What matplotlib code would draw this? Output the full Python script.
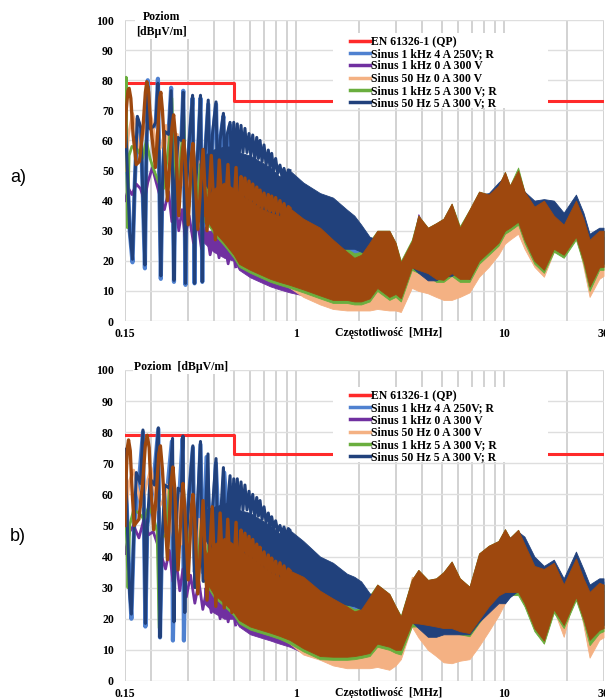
import matplotlib.pyplot as plt
from matplotlib.patches import Rectangle

plt.rcParams['font.family'] = ['Liberation Serif', 'DejaVu Serif']
plt.rcParams['font.weight'] = 'bold'

# EN 61326-1 quasi-peak limit (both panels)
LIMIT_F = [0.15, 0.5, 0.5, 30]
LIMIT_V = [79, 79, 73, 73]

LABELS = ["EN 61326-1 (QP)", "Sinus 1 kHz 4 A 250V; R", "Sinus 1 kHz 0 A 300 V",
          "Sinus 50 Hz 0 A 300 V", "Sinus 1 kHz 5 A 300 V; R", "Sinus 50 Hz 5 A 300 V; R"]
COLORS = ['#ff2a2a', '#4f81d0', '#7030a0', '#f4b183', '#6aae3e', '#21417c']
BROWN = '#9e480e'   # seventh trace, not in the legend

# frequency grid (MHz) of the dense part of the spectrum, envelopes
G = [0.36, 0.4, 0.45,
     0.5, 0.53, 0.6, 0.67, 0.75, 0.83, 0.93, 1.08, 1.3, 1.5,
     1.75, 1.9, 2.05, 2.25, 2.45, 2.8, 3.0, 3.18, 3.59, 3.86,
     4.29, 4.7, 5.1, 5.58, 6.11, 6.8, 7.56, 8.42, 9.37, 10.07,
     10.63, 11.65, 12.5, 13.95, 15.5, 17.3, 19.3, 22.1, 24.0, 25.7,
     28.6, 30]

# ---------------- panel a) ----------------
A_BROWN_HI = [40, 44, 46,
              44, 42, 40, 37.5, 36, 35, 37.5, 34, 31, 27, 23, 21, 22, 26, 30, 30, 26, 19.5, 26.5, 35,
              31, 32.5, 34, 39, 31, 37, 43, 42, 45, 49.5, 45, 50, 43, 38, 40, 35, 32, 40, 34, 27, 30, 30]
A_BROWN_LO = [35, 30, 26,
              22, 19, 17, 15.5, 14, 13, 12, 10.5, 8.5, 7, 7, 6.5, 6.5, 7.5, 11, 8, 9, 7.6, 17.8, 17,
              15.9, 14, 13.7, 15.9, 14, 14, 20, 23, 26, 30, 31, 33, 27, 20, 17, 24, 22, 28, 20, 11.4, 17.8, 18]
A_ORANGE_HI = [40, 42, 42,
               42, 40, 38, 36, 34, 33, 31.5, 31, 28, 24, 20, 18, 19, 23, 27, 27, 23, 17, 24, 32,
               28, 29.5, 31, 36, 28, 34, 40, 39, 42, 46, 42, 47, 40, 35, 37, 32, 29, 37, 31, 24, 27, 27]
A_ORANGE_LO = [36, 31, 27,
               24, 22, 19, 17, 15, 13, 11, 8, 5.5, 4, 3.5, 3.5, 3.5, 3.5, 4, 3.5, 3.5, 3, 11, 10,
               9.2, 8, 7, 7, 8, 9.5, 14.7, 18, 22, 25.7, 27, 29, 24, 18, 14.7, 23, 22, 29, 18, 8, 14, 15]
A_DBLUE_HI = [55, 57, 58,
              58, 56, 55, 53, 51, 48, 50, 46, 42.5, 41, 37, 35, 32, 28, 27, 28, 24, 18, 25, 33,
              30, 31, 33, 37, 30, 36, 42, 42.5, 46, 48, 44, 48, 43, 40, 40.5, 40, 36, 42, 36, 29, 31, 31]
A_DBLUE_LO = [46, 41, 38,
              35, 33, 31, 29, 28, 27, 26, 25, 24, 24, 24, 24, 23, 22, 17, 12, 12, 12, 18, 16,
              13.5, 13.5, 15, 15, 17, 14, 21, 24, 27, 31, 32, 34, 28, 21, 18, 25, 23, 29, 21, 13, 19, 19]
A_LBLUE_HI = [54, 56, 57,
              57, 55, 54, 52, 50, 47, 49, 45, 41.5, 40, 36, 34, 31, 27, 26, 27, 23, 17, 24, 32,
              29, 30, 32, 36, 29, 35, 41, 41.5, 45, 47, 43, 47, 42, 39, 39.5, 39, 35, 41, 35, 28, 30, 30]
A_LBLUE_LO = [45, 40, 37,
              34, 32, 30, 28, 26, 25, 24, 23, 22.5, 22, 21, 21, 21, 21, 17, 12, 12, 12, 18, 16,
              13.5, 13.5, 15, 15, 17, 14, 21, 24, 27, 31, 32, 34, 28, 21, 18, 25, 23, 29, 21, 13, 19, 19]
A_GREEN_HI = [41, 45, 46,
              45, 43, 41, 38.5, 37, 36, 34.5, 34.5, 31.5, 27.5, 24, 22.5, 23, 26.5, 30, 30, 26, 20, 27, 35,
              31, 32.5, 34, 39, 31.5, 37, 43, 42, 45, 49.5, 45, 51, 43, 38, 40, 35, 32, 40, 34, 27, 30, 30]
A_GREEN_LO = [34, 29, 25,
              21, 18, 16, 14.5, 13, 12, 11, 9.5, 7.5, 6, 6, 5.5, 5.5, 6.5, 10, 7, 8, 6.5, 17, 16,
              15, 13, 13, 15, 13, 13, 19, 22, 25, 29, 30, 32, 26, 19, 16, 23, 21, 27, 19, 10, 17, 17]
A_PURPLE_HI = [30, 30, 30,
               40, 39, 37, 35, 34, 33, 32, 32, 29, 25, 21, 19, 20, 24, 28, 28, 24, 17.5, 24.5, 35.5,
               29, 30.5, 32, 37, 29, 35, 41, 40, 43, 47.5, 43, 48, 41, 36, 38, 33, 30, 38, 32, 25, 28, 28]
A_PURPLE_LO = [26, 23, 21,
               20, 17, 14.5, 13, 11.5, 10.5, 9.5, 8.5, 7.5, 6.5, 7, 6.5, 6.5, 7.5, 11, 8, 9, 7.6, 17.8, 17,
               15.9, 14, 13.7, 15.9, 14, 14, 20, 23, 26, 30, 31, 33, 27, 20, 17, 24, 22, 28, 20, 11.4, 17.8, 18]

# low-frequency harmonics (peak / trough points), panel a)
A_BROWN_ZF = [0.150, 0.152, 0.155, 0.157, 0.160, 0.164, 0.170, 0.176, 0.183, 0.188, 0.191, 0.195, 0.200, 0.210,
              0.216, 0.220, 0.223, 0.227, 0.240, 0.252, 0.257, 0.262, 0.272, 0.283, 0.287, 0.292, 0.302,
              0.314, 0.318, 0.322, 0.336, 0.356, 0.372, 0.390, 0.408, 0.426, 0.447, 0.469, 0.490, 0.513, 0.525,
              0.542, 0.554, 0.566, 0.579, 0.592, 0.604, 0.617, 0.631, 0.645, 0.657, 0.669, 0.684, 0.699, 0.716,
              0.733, 0.747, 0.761, 0.778, 0.795, 0.814, 0.834, 0.853, 0.872, 0.893, 0.915, 0.930]
A_BROWN_ZV = [58, 70, 76.5, 77.3, 74, 62, 52, 53, 64, 76, 79.5, 76, 64, 51,
              64, 74, 76, 70, 40, 64, 68.5, 62, 35, 56, 60, 55, 32,
              56, 59, 54, 30.5, 57, 30, 55, 27, 53.5, 28, 52, 25, 51, 30,
              48, 41, 47.5, 40, 46.5, 39.5, 45.5, 39, 44.5, 38, 43.5, 37.5, 42.5, 37,
              42, 36.5, 41.5, 36, 41, 35.5, 40, 35, 39, 34.5, 38, 37.5]
A_DBLUE_ZF = [0.150, 0.154, 0.158, 0.163, 0.167, 0.172, 0.179, 0.183, 0.187, 0.190, 0.193, 0.197, 0.205, 0.211,
              0.216, 0.220, 0.223, 0.227, 0.233, 0.243, 0.250, 0.255, 0.258, 0.262, 0.270, 0.280, 0.286,
              0.290, 0.293, 0.297, 0.305, 0.317, 0.321, 0.324, 0.328, 0.337, 0.346, 0.350, 0.353, 0.357,
              0.364, 0.377, 0.385, 0.395, 0.411, 0.420, 0.430, 0.446, 0.455, 0.465, 0.480, 0.490, 0.500, 0.510,
              0.520, 0.531, 0.542, 0.554, 0.566, 0.579, 0.592, 0.604, 0.617, 0.631, 0.645, 0.657, 0.669, 0.684,
              0.699, 0.716, 0.733, 0.747, 0.761, 0.778, 0.795, 0.814, 0.834, 0.853, 0.872, 0.893, 0.915, 0.930]
A_DBLUE_ZV = [70, 50, 30, 20.5, 45, 68, 64, 40, 18.6, 55, 78, 64, 64.5, 66,
              79, 40, 15, 45, 63, 62, 76.5, 40, 13.5, 45, 61, 60, 76,
              40, 12.5, 45, 59, 75, 40, 12.5, 45, 58, 75, 40, 13, 45,
              55, 73.4, 40, 62, 72.8, 40, 60, 69, 45, 62, 66, 48, 66, 52,
              65.5, 55, 65, 56, 64, 56, 62.3, 55, 61.8, 54, 61, 54, 60, 53,
              58.5, 52, 56.8, 51, 55.7, 50, 54, 49, 51.8, 48, 50.7, 47, 50.2, 50]
A_LBLUE_ZF = [0.150, 0.154, 0.158, 0.163, 0.167, 0.172, 0.179, 0.183, 0.187, 0.190, 0.193, 0.197, 0.205, 0.211,
              0.216, 0.220, 0.223, 0.227, 0.233, 0.243, 0.250, 0.255, 0.258, 0.262, 0.270, 0.280, 0.286,
              0.290, 0.293, 0.297, 0.305, 0.317, 0.321, 0.324, 0.328, 0.337, 0.346, 0.350, 0.353, 0.357,
              0.364, 0.377, 0.385, 0.395, 0.411, 0.420, 0.430, 0.446, 0.455, 0.465, 0.480, 0.490, 0.500]
A_LBLUE_ZV = [71, 50, 30, 19.5, 45, 67, 63, 40, 17.5, 55, 80, 64, 64, 66,
              80.5, 40, 14, 45, 62, 62, 77.5, 40, 13, 45, 60, 60, 76.5,
              40, 12, 45, 58, 74, 40, 12.5, 45, 57, 74, 40, 13, 45,
              55, 72, 40, 60, 72, 40, 60, 68, 40, 60, 65, 42, 63]
A_ORANGE_ZF = [0.150, 0.156, 0.163, 0.168, 0.176, 0.184, 0.198, 0.205, 0.213, 0.225, 0.236, 0.245, 0.255, 0.268,
               0.280, 0.290, 0.300, 0.312, 0.325, 0.340, 0.355, 0.370, 0.385, 0.400, 0.420, 0.440, 0.460, 0.480,
               0.500, 0.520]
A_ORANGE_ZV = [50, 62, 69, 66, 56, 62, 69.5, 65, 56, 58, 65, 55, 45, 62,
               45, 58, 40, 55, 38, 53, 36, 51, 34, 49, 32, 47, 30, 46, 27, 45]
A_GREEN_ZF = [0.150, 0.152, 0.154, 0.157, 0.162, 0.172, 0.182, 0.190, 0.198, 0.207, 0.218, 0.230, 0.245, 0.252,
              0.258, 0.268, 0.282, 0.287, 0.293, 0.305, 0.318, 0.330, 0.345, 0.360, 0.375, 0.390, 0.410, 0.430,
              0.450, 0.470, 0.490, 0.510]
A_GREEN_ZV = [62, 81, 31, 55, 58, 57, 54, 60, 54, 50, 46, 44, 60, 74,
              48, 42, 60, 70, 45, 38, 58, 36, 52, 33, 50, 31, 48, 29, 47, 27, 46, 25]
A_PURPLE_ZF = [0.150, 0.156, 0.162, 0.170, 0.178, 0.186, 0.193, 0.203, 0.212, 0.222, 0.232, 0.243, 0.252, 0.262,
               0.272, 0.282, 0.292, 0.305, 0.320, 0.335, 0.350, 0.368, 0.385, 0.405, 0.425, 0.445, 0.470, 0.490,
               0.510]
A_PURPLE_ZV = [40, 44, 42, 45.5, 44, 40, 46, 51, 46, 41, 37, 43, 33, 40,
               30, 37, 28, 35, 26, 33, 24, 31, 22, 29, 21, 28, 19, 26, 18]

# ---------------- panel b) ----------------
B_BROWN_HI = [40, 44, 46,
              44, 42, 40, 37.5, 35, 33.5, 35.5, 33.5, 29, 26.5, 24, 22.4, 23, 27, 31, 28, 24, 20.7, 32.5, 35.7,
              32.5, 33, 35, 38.4, 33, 30.3, 41, 43.5, 45, 48.8, 46, 48.6, 44, 37, 36, 38, 31, 39.4, 33, 28.6, 31.6, 31]
B_BROWN_LO = [33, 28, 25,
              22, 19.6, 17.5, 16.5, 15.5, 14.5, 13.2, 10.5, 8, 7.8, 7.8, 8, 8.4, 9, 12, 11, 10, 10, 18.6, 18.5,
              18, 17.5, 17, 17, 16, 15.4, 19.7, 24, 27.5, 28.6, 28.6, 28.6, 25, 17, 13, 23, 18, 27, 20, 13.2, 16.4, 17]
B_ORANGE_HI = [40, 42, 42,
               42, 40, 38, 36, 33.5, 32, 31, 31, 26.5, 24, 21.5, 20, 20.5, 24.5, 28.5, 25.5, 21.5, 18, 33.5, 33,
               30, 30.5, 32.5, 36, 30.5, 28, 38.5, 41, 42.5, 46, 43.5, 46, 41.5, 34.5, 33.5, 35.5, 28.5, 37, 30.5, 26, 29, 28.5]
B_ORANGE_LO = [35, 30, 26,
               24, 21, 18.5, 17, 15.5, 14, 12, 8.5, 6.8, 5, 4.1, 4.1, 4.1, 4.1, 4.5, 3.6, 5, 7, 17.5, 14,
               10, 8, 6, 5.7, 6.5, 7, 11.2, 16, 21, 25, 28, 31.4, 28, 19, 12.1, 22.8, 14.2, 29.4, 18, 7.5, 13.2, 14]
B_DBLUE_HI = [55, 56, 57,
              58, 55, 54, 52, 50, 47.5, 48.5, 45, 40, 38, 34.5, 33.5, 32, 28.2, 27, 26, 23, 20, 31, 34,
              31, 32, 34, 37, 32, 29.5, 40, 43, 44.5, 47, 46, 48, 46.4, 40, 37, 39, 33, 41.6, 36, 31, 33, 33]
B_DBLUE_LO = [46, 41, 38,
              36, 34, 32, 30, 29, 28, 27, 26, 25.5, 25, 24.5, 24, 23, 22, 18, 13, 12, 12, 19, 17,
              14.2, 14.2, 15, 15, 15, 15, 19, 22, 25, 25, 27, 29, 26, 18, 14, 24, 19, 28, 21, 14, 17, 18]
B_LBLUE_HI = [54, 55, 56,
              57, 54, 53, 51, 49, 46.5, 47.5, 44, 39, 37, 33.5, 32.5, 31, 27.2, 26, 25, 22, 19, 30, 33,
              30, 31, 33, 36, 31, 28.5, 39, 42, 43.5, 46, 45, 47, 45.4, 39, 36, 38, 32, 40.6, 35, 30, 32, 32]
B_LBLUE_LO = [45, 40, 37,
              34, 32, 30, 28, 27, 26, 25, 24, 23, 22, 21.5, 21, 21, 21, 18, 13, 12, 12, 19, 17,
              14.2, 14.2, 15, 15, 15, 15, 19, 22, 25, 25, 27, 29, 26, 18, 14, 24, 19, 28, 21, 14, 17, 18]
B_GREEN_HI = [41, 45, 46,
              45, 43, 41, 38.5, 36, 34.5, 33.5, 34, 29.5, 27, 24.5, 23, 23.5, 27.5, 31, 28, 24, 21, 32.5, 35.7,
              32.5, 33, 35, 38.4, 33, 30.3, 41, 43.5, 45, 48.8, 46, 48.6, 44, 37, 36, 38, 31, 39.4, 33, 28.6, 31.6, 31]
B_GREEN_LO = [32, 27, 24,
              21, 18.5, 16.5, 15.5, 14.5, 13.5, 12, 9.5, 7, 6.8, 6.8, 7, 7.4, 8, 11, 10, 9, 8.5, 17.5, 17.5,
              17, 16.5, 16, 16, 15, 14.4, 18.7, 23, 26.5, 27.6, 27.6, 27.6, 24, 16, 12, 22, 17, 26, 19, 11.5, 15.4, 16]
B_PURPLE_HI = [30, 30, 30,
               40, 39, 37, 35, 33, 31.5, 30.5, 31.5, 27, 24.5, 22, 20.4, 21, 25, 29, 26, 22, 18.7, 30.5, 33.7,
               30.5, 31, 33, 36.4, 31, 28.3, 39, 41.5, 43, 46.8, 44, 46.6, 42, 35, 34, 36, 29, 37.4, 31, 26.6, 29.6, 29]
B_PURPLE_LO = [25, 22, 20,
               20, 17.5, 15, 14, 13, 12, 11, 9, 7.5, 7.5, 7.8, 8, 8.4, 9, 12, 11, 10, 10, 18.6, 18.5,
               18, 17.5, 17, 17, 16, 15.4, 19.7, 24, 27.5, 28.6, 28.6, 28.6, 25, 17, 13, 23, 18, 27, 20, 13.2, 16.4, 17]

# low-frequency harmonics (peak / trough points), panel b)
B_BROWN_ZF = [0.150, 0.152, 0.154, 0.156, 0.159, 0.162, 0.166, 0.175, 0.183, 0.188, 0.192, 0.196, 0.200, 0.206,
              0.213, 0.218, 0.222, 0.227, 0.240, 0.250, 0.255, 0.260, 0.270, 0.281, 0.285, 0.290, 0.302,
              0.314, 0.318, 0.323, 0.336, 0.356, 0.372, 0.394, 0.410, 0.430, 0.450, 0.468, 0.490, 0.513, 0.525,
              0.542, 0.554, 0.566, 0.579, 0.592, 0.604, 0.617, 0.631, 0.645, 0.657, 0.669, 0.684, 0.699, 0.716,
              0.733, 0.747, 0.761, 0.778, 0.795, 0.814, 0.834, 0.853, 0.872, 0.893, 0.915, 0.930]
B_BROWN_ZV = [50, 66, 75, 77.5, 74, 62, 50, 52, 65, 76, 79, 75, 62, 48.6,
              62, 73, 75.6, 68, 39, 64, 68.8, 62, 35.7, 58, 63.5, 57, 32.5,
              57, 60, 55, 28, 58, 26, 56, 24, 54, 23.5, 52, 22, 51, 30,
              48.5, 41, 47.5, 40, 46.5, 39, 45.5, 38.5, 44, 37.5, 43, 36.5, 41.5, 35.5,
              40.5, 35, 39.5, 34, 38.5, 33.5, 38, 33, 37, 32.5, 36, 35.5]
B_DBLUE_ZF = [0.150, 0.154, 0.158, 0.161, 0.165, 0.170, 0.178, 0.183, 0.186, 0.188, 0.192, 0.198, 0.208, 0.217,
              0.219, 0.221, 0.226, 0.233, 0.245, 0.254, 0.256, 0.258, 0.262, 0.270, 0.280, 0.285, 0.288,
              0.291, 0.296, 0.305, 0.318, 0.322, 0.326, 0.330, 0.346, 0.352, 0.357, 0.362, 0.376, 0.383,
              0.390, 0.411, 0.420, 0.430, 0.446, 0.455, 0.465, 0.480, 0.490, 0.500, 0.510, 0.520, 0.531,
              0.542, 0.554, 0.566, 0.579, 0.592, 0.604, 0.617, 0.631, 0.645, 0.657, 0.669, 0.684, 0.699, 0.716,
              0.733, 0.747, 0.761, 0.778, 0.795, 0.814, 0.834, 0.853, 0.872, 0.893, 0.915, 0.930]
B_DBLUE_ZV = [74.5, 50, 28, 21.5, 45, 67, 63.5, 80.7, 40, 18.5, 50, 65, 63, 81.4,
              40, 14, 45, 63, 62, 78, 40, 19, 45, 62, 61, 78.8, 40,
              22, 45, 60, 75.6, 40, 30, 48, 77, 40, 32, 48, 73, 38,
              50, 71.5, 38, 50, 68.6, 45, 55, 66, 48, 65, 52, 65, 55,
              64, 55, 63, 55, 61, 54, 60, 53, 59, 53, 58, 52, 56, 51,
              54, 50, 52.8, 49, 51.5, 48, 50, 47, 49.5, 46.5, 49, 48.5]
B_LBLUE_ZF = [0.150, 0.158, 0.161, 0.166, 0.175, 0.183, 0.186, 0.188, 0.192, 0.205, 0.217, 0.219, 0.221, 0.226,
              0.240, 0.252, 0.255, 0.260, 0.275, 0.284, 0.288, 0.293, 0.305, 0.318, 0.325, 0.335, 0.346, 0.355,
              0.370, 0.390, 0.410, 0.430, 0.450, 0.480, 0.500]
B_LBLUE_ZV = [72, 30, 20, 50, 64, 80, 40, 17.5, 50, 63, 81, 40, 14, 45,
              62, 77, 13, 45, 62, 78, 13, 45, 60, 75, 35, 50, 76, 35,
              72, 40, 70, 40, 67, 40, 63]
B_ORANGE_ZF = [0.150, 0.157, 0.165, 0.172, 0.180, 0.190, 0.200, 0.208, 0.215, 0.228, 0.238, 0.248, 0.258, 0.270,
               0.280, 0.290, 0.300, 0.312, 0.325, 0.340, 0.355, 0.370, 0.385, 0.400, 0.420, 0.440, 0.460, 0.480,
               0.500, 0.520]
B_ORANGE_ZV = [52, 64, 67.8, 62, 56, 63, 68.5, 62, 55, 58, 63, 52, 45, 60,
               44, 56, 40, 54, 37, 52, 35, 50, 33, 48, 31, 47, 29, 46, 27, 45]
B_GREEN_ZF = [0.150, 0.153, 0.155, 0.158, 0.165, 0.175, 0.185, 0.195, 0.205, 0.214, 0.219, 0.224, 0.236, 0.252,
              0.258, 0.270, 0.287, 0.298, 0.318, 0.333, 0.350, 0.365, 0.385, 0.405, 0.425, 0.445, 0.465, 0.490,
              0.510]
B_GREEN_ZV = [57, 45, 30, 50, 55, 54, 52, 56, 53, 48, 17, 46, 47, 71.5,
              44, 42, 62, 38, 58, 34, 52, 32, 50, 30, 48, 28, 46, 26, 45]
B_PURPLE_ZF = [0.150, 0.158, 0.165, 0.175, 0.185, 0.195, 0.205, 0.215, 0.225, 0.235, 0.245, 0.255, 0.265, 0.275,
               0.285, 0.296, 0.310, 0.325, 0.340, 0.355, 0.372, 0.390, 0.410, 0.430, 0.450, 0.470, 0.490, 0.510]
B_PURPLE_ZV = [41, 48, 50, 46, 52, 47, 48, 44, 40, 36, 42, 32, 38, 29,
               36, 27, 34, 25, 32, 23, 30, 22, 28, 20, 27, 19, 25, 18]

GRID_F = [0.15, 0.2, 0.3, 0.4, 0.5, 0.6, 0.7, 0.8, 0.9, 1, 2, 3, 4, 5, 6, 7, 8, 9, 10, 20, 30]


def draw_panel(ax, series, ylab_two_lines, legend_box):
    for f in GRID_F:
        ax.axvline(f, color='#cfcfcf', lw=1.3, zorder=0)
    for v in range(0, 101, 10):
        ax.axhline(v, color='#dedede', lw=1.0, zorder=0)

    ax.plot(LIMIT_F, LIMIT_V, color=COLORS[0], lw=2.2, zorder=1.5, label=LABELS[0])
    z = 2
    for color, label, zf, zv, hi, lo, lw in series:
        ax.fill_between(G, lo, hi, color=color, lw=0.6, edgecolor=color, zorder=z)
        ax.plot(zf, zv, color=color, lw=lw, zorder=z, label=label, solid_joinstyle='round')
        z += 1

    ax.set_xscale('log')
    ax.set_xlim(0.15, 30)
    ax.set_ylim(0, 100)
    ax.set_xticks([0.15, 1, 10, 30])
    ax.set_xticklabels(['0.15', '1', '10', '30'])
    ax.minorticks_off()
    ax.set_yticks(range(0, 101, 10))
    ax.tick_params(length=0, labelsize=8.5, pad=8)
    ax.tick_params(axis='x', pad=5)
    for s in ax.spines.values():
        s.set_visible(False)

    ax.add_patch(Rectangle((legend_box[0], legend_box[1]), legend_box[2], legend_box[3],
                           transform=ax.transAxes, facecolor='white', edgecolor='none', zorder=20))
    h, l = ax.get_legend_handles_labels()
    leg = ax.legend(h[:6], l[:6], loc='upper left',
                    bbox_to_anchor=(legend_box[0] + 0.035, legend_box[1] + legend_box[3] - 0.01),
                    frameon=False, fontsize=8.5, labelspacing=0.02, handlelength=1.7, handletextpad=0.1,
                    borderpad=0, borderaxespad=0)
    leg.set_zorder(21)
    for line in leg.get_lines():
        line.set_linewidth(2.5)

    if ylab_two_lines:
        ax.text(0.077, 0.985, 'Poziom\n[dBµV/m]', transform=ax.transAxes, ha='center', va='center',
                fontsize=8.5, linespacing=1.25, bbox=dict(facecolor='white', edgecolor='none', pad=1), zorder=22)
    else:
        ax.text(0.118, 1.01, 'Poziom  [dBµV/m]', transform=ax.transAxes, ha='center', va='center',
                fontsize=8.5, bbox=dict(facecolor='white', edgecolor='none', pad=1), zorder=22)
    ax.text(0.55, -0.04, 'Częstotliwość  [MHz]', transform=ax.transAxes, ha='center', va='center', fontsize=8.5)


fig = plt.figure(figsize=(6.05, 6.98), dpi=100)
ax_a = fig.add_axes([0.2066, 0.5401, 0.791, 0.4312])
ax_b = fig.add_axes([0.2066, 0.0244, 0.791, 0.4456])

series_a = [
    (COLORS[1], LABELS[1], A_LBLUE_ZF, A_LBLUE_ZV, A_LBLUE_HI, A_LBLUE_LO, 3.0),
    (COLORS[2], LABELS[2], A_PURPLE_ZF, A_PURPLE_ZV, A_PURPLE_HI, A_PURPLE_LO, 2.0),
    (COLORS[3], LABELS[3], A_ORANGE_ZF, A_ORANGE_ZV, A_ORANGE_HI, A_ORANGE_LO, 2.0),
    (COLORS[4], LABELS[4], A_GREEN_ZF, A_GREEN_ZV, A_GREEN_HI, A_GREEN_LO, 2.0),
    (COLORS[5], LABELS[5], A_DBLUE_ZF, A_DBLUE_ZV, A_DBLUE_HI, A_DBLUE_LO, 2.2),
    (BROWN, None, A_BROWN_ZF, A_BROWN_ZV, A_BROWN_HI, A_BROWN_LO, 2.4),
]
series_b = [
    (COLORS[1], LABELS[1], B_LBLUE_ZF, B_LBLUE_ZV, B_LBLUE_HI, B_LBLUE_LO, 3.0),
    (COLORS[2], LABELS[2], B_PURPLE_ZF, B_PURPLE_ZV, B_PURPLE_HI, B_PURPLE_LO, 2.0),
    (COLORS[3], LABELS[3], B_ORANGE_ZF, B_ORANGE_ZV, B_ORANGE_HI, B_ORANGE_LO, 2.0),
    (COLORS[4], LABELS[4], B_GREEN_ZF, B_GREEN_ZV, B_GREEN_HI, B_GREEN_LO, 2.0),
    (COLORS[5], LABELS[5], B_DBLUE_ZF, B_DBLUE_ZV, B_DBLUE_HI, B_DBLUE_LO, 2.2),
    (BROWN, None, B_BROWN_ZF, B_BROWN_ZV, B_BROWN_HI, B_BROWN_LO, 2.4),
]

draw_panel(ax_a, series_a, True, (0.435, 0.708, 0.449, 0.249))
draw_panel(ax_b, series_b, False, (0.435, 0.704, 0.449, 0.241))

fig.text(0.017, 0.745, 'a)', fontsize=13, family=['Liberation Sans', 'DejaVu Sans'], weight='normal', va='center')
fig.text(0.017, 0.231, 'b)', fontsize=13, family=['Liberation Sans', 'DejaVu Sans'], weight='normal', va='center')

fig.savefig('out.png', dpi=100)
